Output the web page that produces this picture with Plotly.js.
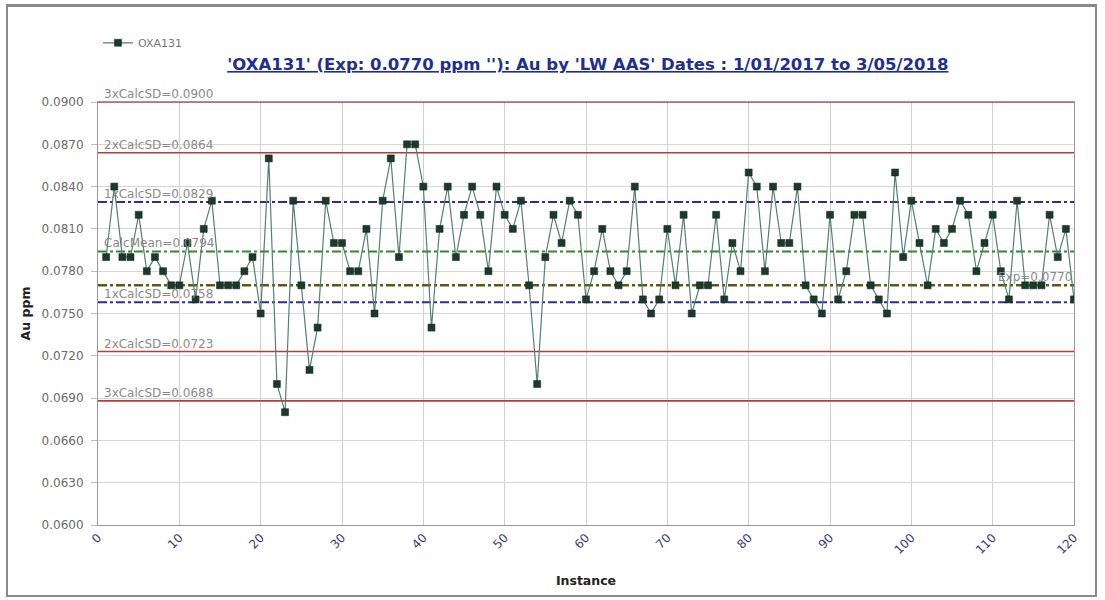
<!DOCTYPE html>
<html>
<head>
<meta charset="utf-8">
<script src="https://cdn.plot.ly/plotly-3.0.1.min.js"></script>
<style>
  html, body { margin: 0; padding: 0; background: #ffffff; }
  #frame { position: absolute; left: 6px; top: 4px; width: 1091px; height: 593px; border: 2px solid #8a8a8a; border-top-width: 3px; box-sizing: border-box; pointer-events: none; z-index: 5; }
  #chart { width: 1105px; height: 600px; }
</style>
</head>
<body>
<div id="frame"></div>
<div id="chart"></div>
<script>
// Instance numbers
const instances = [];
for (let i = 1; i <= 120; i++) instances.push(i);

// Au ppm values (OXA131)
const auPpm = [
  0.079, 0.084, 0.079, 0.079, 0.082, 0.078, 0.079, 0.078, 0.077, 0.077,
  0.080, 0.076, 0.081, 0.083, 0.077, 0.077, 0.077, 0.078, 0.079, 0.075,
  0.086, 0.070, 0.068, 0.083, 0.077, 0.071, 0.074, 0.083, 0.080, 0.080,
  0.078, 0.078, 0.081, 0.075, 0.083, 0.086, 0.079, 0.087, 0.087, 0.084,
  0.074, 0.081, 0.084, 0.079, 0.082, 0.084, 0.082, 0.078, 0.084, 0.082,
  0.081, 0.083, 0.077, 0.070, 0.079, 0.082, 0.080, 0.083, 0.082, 0.076,
  0.078, 0.081, 0.078, 0.077, 0.078, 0.084, 0.076, 0.075, 0.076, 0.081,
  0.077, 0.082, 0.075, 0.077, 0.077, 0.082, 0.076, 0.080, 0.078, 0.085,
  0.084, 0.078, 0.084, 0.080, 0.080, 0.084, 0.077, 0.076, 0.075, 0.082,
  0.076, 0.078, 0.082, 0.082, 0.077, 0.076, 0.075, 0.085, 0.079, 0.083,
  0.080, 0.077, 0.081, 0.080, 0.081, 0.083, 0.082, 0.078, 0.080, 0.082,
  0.078, 0.076, 0.083, 0.077, 0.077, 0.077, 0.082, 0.079, 0.081, 0.076
];

// Control limit lines
const limitNames  = ['3xCalcSD', '2xCalcSD', '1xCalcSD', 'CalcMean', 'Exp', '1xCalcSD', '2xCalcSD', '3xCalcSD'];
const limitValues = [0.0900, 0.0864, 0.0829, 0.0794, 0.0770, 0.0758, 0.0723, 0.0688];
const limitKinds  = ['sd3', 'sd2', 'sd1', 'mean', 'exp', 'sd1', 'sd2', 'sd3'];

const xTicks = [0, 10, 20, 30, 40, 50, 60, 70, 80, 90, 100, 110, 120];
const yTicks = [0.0600, 0.0630, 0.0660, 0.0690, 0.0720, 0.0750, 0.0780, 0.0810, 0.0840, 0.0870, 0.0900];

const seriesName = 'OXA131';
const titleText = "'OXA131' (Exp: 0.0770 ppm ''): Au by 'LW AAS' Dates : 1/01/2017 to 3/05/2018";

const styles = {
  sd3:  {color: '#b83a3a', width: 1.6, dash: 'solid'},
  sd2:  {color: '#b83a3a', width: 1.6, dash: 'solid'},
  sd1:  {color: '#2c2ca0', width: 2,   dash: 'dashdot'},
  mean: {color: '#2f8a2f', width: 2,   dash: 'dashdot'},
  exp:  {color: '#5a5a18', width: 2.4, dash: 'dashdot'}
};

const traces = [];
limitValues.forEach((v, k) => {
  traces.push({
    x: [xTicks[0], xTicks[xTicks.length - 1]],
    y: [v, v],
    mode: 'lines',
    line: styles[limitKinds[k]],
    hoverinfo: 'skip',
    showlegend: false
  });
});
traces.push({
  x: instances,
  y: auPpm,
  name: seriesName,
  mode: 'lines+markers',
  line: {color: '#557f70', width: 1.2},
  marker: {symbol: 'square', size: 7, color: '#1c3a2c', line: {color: '#0f2018', width: 0.5}},
  showlegend: true
});

const annotations = [];
limitValues.forEach((v, k) => {
  const isExp = limitKinds[k] === 'exp';
  annotations.push({
    x: isExp ? xTicks[xTicks.length - 1] : 0.5,
    y: v,
    xref: 'x', yref: 'y',
    text: limitNames[k] + '=' + v.toFixed(4),
    showarrow: false,
    xanchor: isExp ? 'right' : 'left',
    yanchor: 'bottom',
    yshift: -1,
    font: {family: 'DejaVu Sans', size: 12, color: '#8a8a8a'}
  });
});

const layout = {
  width: 1105, height: 600,
  margin: {l: 98, r: 31, t: 102, b: 75},
  paper_bgcolor: '#ffffff',
  plot_bgcolor: '#ffffff',
  title: {
    text: '<b><u>' + titleText + '</u></b>',
    x: 0.532, xanchor: 'center',
    y: 0.893, yanchor: 'middle',
    font: {family: 'DejaVu Sans', size: 16.5, color: '#1f2f8f'}
  },
  showlegend: true,
  legend: {
    x: 0.0, y: 1.14, xanchor: 'left', yanchor: 'middle',
    orientation: 'h',
    itemwidth: 30,
    font: {family: 'DejaVu Sans', size: 11, color: '#777777'},
    bgcolor: 'rgba(0,0,0,0)'
  },
  xaxis: {
    range: [0, 120],
    tickvals: xTicks,
    ticktext: xTicks.map(String),
    tickangle: -45,
    tickfont: {family: 'DejaVu Sans', size: 12, color: '#3a3a80'},
    showgrid: true, gridcolor: '#cfcfcf', gridwidth: 1,
    showline: true, linecolor: '#999999', mirror: true,
    zeroline: false,
    ticks: '',
    title: {text: '<b>Instance</b>', font: {family: 'DejaVu Sans', size: 12.5, color: '#222222'}, standoff: 20}
  },
  yaxis: {
    range: [0.0600, 0.0900],
    tickvals: yTicks,
    ticktext: yTicks.map(v => v.toFixed(4)),
    tickfont: {family: 'DejaVu Sans', size: 12, color: '#6a6a6a'},
    showgrid: true, gridcolor: '#d6d6d6', gridwidth: 1,
    showline: true, linecolor: '#999999', mirror: true,
    zeroline: false,
    ticks: 'outside', ticklen: 6, tickcolor: '#bbbbbb',
    ticklabelstandoff: 5,
    title: {text: '<b>Au ppm</b>', font: {family: 'DejaVu Sans', size: 12.5, color: '#222222'}, standoff: 8}
  },
  annotations: annotations
};

Plotly.newPlot('chart', traces, layout, {displayModeBar: false, staticPlot: true});
</script>
</body>
</html>
